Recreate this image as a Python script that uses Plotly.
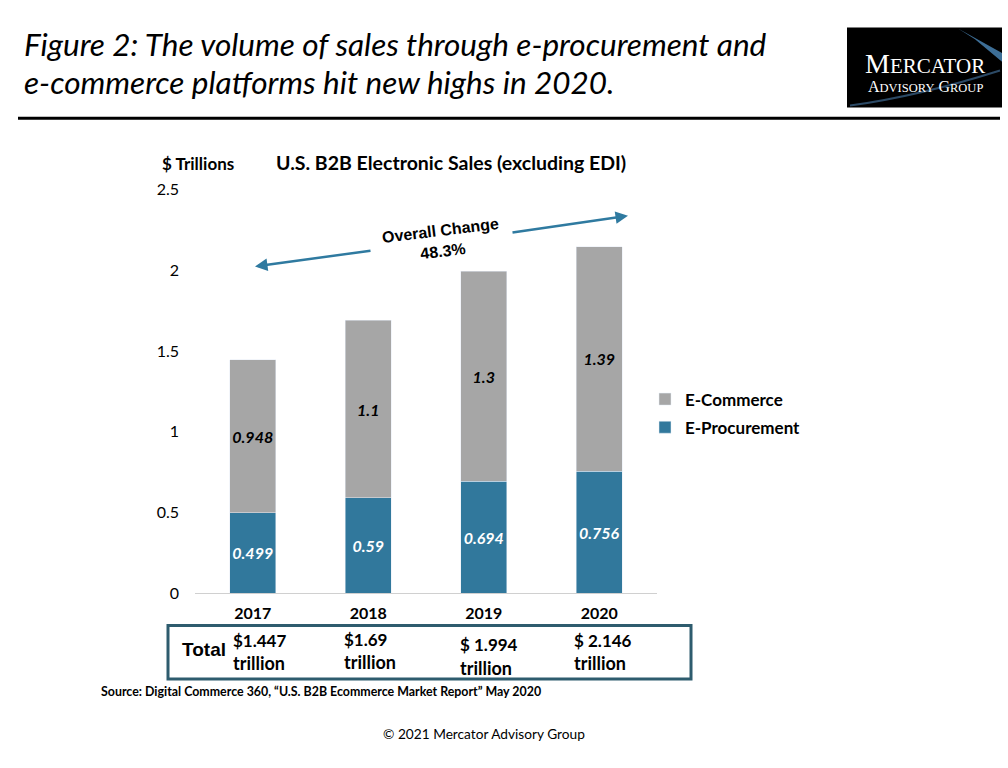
import plotly.graph_objects as go

years = ["2017", "2018", "2019", "2020"]
e_procurement = [0.499, 0.59, 0.694, 0.756]
e_commerce = [0.948, 1.1, 1.3, 1.39]
total_labels = ["$1.447", "$1.69", "$ 1.994", "$ 2.146"]
y_ticks = [0, 0.5, 1, 1.5, 2, 2.5]

W, H = 1008, 768
def px(x):
    return x / W
def py(y):
    return 1 - y / H

BLUE = "#31789c"
GRAY = "#a6a6a6"
FONT = "Lato, 'Open Sans', sans-serif"

fig = go.Figure()
fig.add_trace(go.Bar(
    x=years, y=e_procurement, name="<b>E-Procurement</b>", marker_color=BLUE,
    width=0.4, text=[f"<b><i>{v}</i></b>" for v in e_procurement],
    textposition="inside", insidetextanchor="middle", constraintext="none", textangle=0,
    textfont=dict(color="white", size=16, family=FONT),
    legendgroup="p", legendrank=2, hoverinfo="skip"))
fig.add_trace(go.Bar(
    x=years, y=e_commerce, name="<b>E-Commerce</b>", marker_color=GRAY,
    width=0.4, text=[f"<b><i>{v}</i></b>" for v in e_commerce],
    textposition="inside", insidetextanchor="middle", constraintext="none", textangle=0,
    textfont=dict(color="black", size=16, family=FONT),
    legendgroup="c", legendrank=1, hoverinfo="skip"))

fig.update_layout(
    width=W, height=H, autosize=False,
    margin=dict(l=0, r=0, t=0, b=0),
    paper_bgcolor="white", plot_bgcolor="white",
    barmode="stack",
    font=dict(family=FONT, color="black"),
    showlegend=True,
    legend=dict(x=px(645), y=py(381), xanchor="left", yanchor="top",
                traceorder="grouped", tracegroupgap=3,
                font=dict(size=17, family=FONT, color="black"),
                bgcolor="rgba(0,0,0,0)"),
    xaxis=dict(domain=[px(195), px(657)], range=[-0.5, 3.5],
               showline=True, linecolor="#d0d0d0", linewidth=1,
               showgrid=False, ticks="",
               tickfont=dict(size=16, family=FONT, color="black", weight="bold"),
               ticklabelstandoff=6),
    yaxis=dict(domain=[py(598), py(184)], range=[0, 2.5],
               tickvals=y_ticks, ticktext=[f"{v:g}" for v in y_ticks],
               showline=False, showgrid=False, zeroline=False, ticks="",
               tickfont=dict(size=16, family=FONT, color="black"),
               ticklabelstandoff=15),
)

anns = []
# Title
anns.append(dict(xref="paper", yref="paper", x=px(22), y=py(35), xanchor="left", yanchor="middle",
                 text="<i>Figure 2: The volume of sales through e-procurement and</i>",
                 showarrow=False, font=dict(size=31.5, family=FONT, color="black")))
anns.append(dict(xref="paper", yref="paper", x=px(22), y=py(74), xanchor="left", yanchor="middle",
                 text="<i>e-commerce platforms hit new highs in 2020.</i>",
                 showarrow=False, font=dict(size=31.5, family=FONT, color="black")))
# Logo text
anns.append(dict(xref="paper", yref="paper", x=px(925), y=py(55), xanchor="center", yanchor="middle",
                 text="M<span style='font-size:21px'>ERCATOR</span>", showarrow=False,
                 font=dict(size=28, family="Liberation Serif, serif", color="white")))
anns.append(dict(xref="paper", yref="paper", x=px(925), y=py(78), xanchor="center", yanchor="middle",
                 text="A<span style='font-size:12.5px'>DVISORY</span> G<span style='font-size:12.5px'>ROUP</span>",
                 showarrow=False,
                 font=dict(size=16, family="Liberation Serif, serif", color="white")))
# Chart title and axis title
anns.append(dict(xref="paper", yref="paper", x=px(451), y=py(156), xanchor="center", yanchor="middle",
                 text="<b>U.S. B2B Electronic Sales (excluding EDI)</b>", showarrow=False,
                 font=dict(size=19.5, family=FONT, color="black")))
anns.append(dict(xref="paper", yref="paper", x=px(160), y=py(157), xanchor="left", yanchor="middle",
                 text="<b>$ Trillions</b>", showarrow=False,
                 font=dict(size=17, family=FONT, color="black")))
# Overall change arrows
ARROW = "#2f7aa0"
anns.append(dict(xref="paper", yref="paper", x=px(255), y=py(263), ax=372 - 255, ay=247 - 263,
                 axref="pixel", ayref="pixel", text="", showarrow=True,
                 arrowhead=2, arrowsize=1, arrowwidth=2.5, arrowcolor=ARROW))
anns.append(dict(xref="paper", yref="paper", x=px(628), y=py(211), ax=511 - 628, ay=228 - 211,
                 axref="pixel", ayref="pixel", text="", showarrow=True,
                 arrowhead=2, arrowsize=1, arrowwidth=2.5, arrowcolor=ARROW))
anns.append(dict(xref="paper", yref="paper", x=px(441), y=py(237), xanchor="center", yanchor="middle",
                 text="<b>Overall Change<br>48.3%</b>", showarrow=False, textangle=-7,
                 font=dict(size=16, family="Liberation Sans, Arial, sans-serif", color="black")))
# Total box contents
anns.append(dict(xref="paper", yref="paper", x=px(180), y=py(656), xanchor="left", yanchor="middle",
                 text="<b>Total</b>", showarrow=False,
                 font=dict(size=19, family="Liberation Sans, Arial, sans-serif", color="black")))
tot_x = [231, 342, 458, 572]
tot_y = [646, 645, 651, 646]
for lbl, xx, yy in zip(total_labels, tot_x, tot_y):
    anns.append(dict(xref="paper", yref="paper", x=px(xx), y=py(yy), xanchor="left", yanchor="middle",
                     text=f"<b>{lbl}</b>", showarrow=False,
                     font=dict(size=17, family=FONT, color="black")))
    anns.append(dict(xref="paper", yref="paper", x=px(xx), y=py(yy + 24), xanchor="left", yanchor="middle",
                     text="<b>trillion</b>", showarrow=False,
                     font=dict(size=18, family=FONT, color="black")))
# Source & copyright
anns.append(dict(xref="paper", yref="paper", x=px(99), y=py(699), xanchor="left", yanchor="middle",
                 text="<b>Source: Digital Commerce 360, “U.S. B2B Ecommerce Market Report” May 2020</b>",
                 showarrow=False, font=dict(size=12.4, family=FONT, color="black")))
anns.append(dict(xref="paper", yref="paper", x=px(484), y=py(742), xanchor="center", yanchor="middle",
                 text="© 2021 Mercator Advisory Group", showarrow=False,
                 font=dict(size=13.7, family=FONT, color="black")))
fig.update_layout(annotations=anns)

shapes = []
# Logo background
shapes.append(dict(type="rect", xref="paper", yref="paper", x0=px(847), x1=px(1002), y0=py(100), y1=py(18),
                   fillcolor="black", line=dict(width=0), layer="below"))
shapes.append(dict(type="path", xref="paper", yref="paper",
                   path=f"M {px(958)},{py(19)} L {px(1002)},{py(44)} L {px(1002)},{py(53)} L {px(975)},{py(30)} Z",
                   fillcolor="#3d6e96", line=dict(width=0), layer="below"))
shapes.append(dict(type="path", xref="paper", yref="paper",
                   path=f"M {px(850)},{py(98)} Q {px(920)},{py(88)} {px(1000)},{py(62)}",
                   line=dict(color="#2c4a66", width=2), layer="below"))
# Title rule
shapes.append(dict(type="line", xref="paper", yref="paper", x0=px(18), x1=px(1000), y0=py(111), y1=py(111),
                   line=dict(color="black", width=3)))
# Total box
shapes.append(dict(type="rect", xref="paper", yref="paper", x0=px(168), x1=px(691), y0=py(686), y1=py(631),
                   line=dict(color="#2e5c6e", width=3), fillcolor="rgba(0,0,0,0)"))
fig.update_layout(shapes=shapes)

post = (
    "document.documentElement.style.margin='0';"
    "document.body.style.margin='0';"
    "document.body.style.overflow='hidden';"
    "var gd=document.getElementById('{plot_id}');"
    "gd.style.position='fixed';gd.style.top='0px';gd.style.left='0px';"
)
fig.write_html("out.html", config={"displayModeBar": False}, post_script=post)
